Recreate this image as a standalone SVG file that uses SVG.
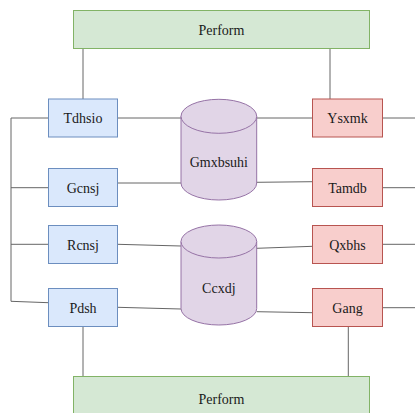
<svg xmlns="http://www.w3.org/2000/svg" width="415" height="413" viewBox="0 0 415 413">
<style>
text{font-family:'Liberation Serif','Times New Roman',serif;font-size:14px;fill:#1a1a1a;text-anchor:middle}
.b rect{fill:#dae8fc;stroke:#6c8ebf}
.r rect{fill:#f8cecc;stroke:#b85450}
.g rect{fill:#d5e8d4;stroke:#82b366}
.c path{fill:#e1d5e7;stroke:#9673a6}
#edges path{fill:none;stroke:#666;stroke-width:1}
</style>
<rect width="415" height="413" fill="#fff"/>
<g id="edges">
<path d="M83 48.7V99"/>
<path d="M330 48.7V99"/>
<path d="M83 326.7V376.7"/>
<path d="M348.3 326.7V376.7"/>
<path d="M48.3 118H11V301.3L48.3 302.7"/>
<path d="M11 187.7H48.3"/>
<path d="M11 244.3H48.3"/>
<path d="M117.7 118H181"/>
<path d="M256.7 118H312.7"/>
<path d="M382.3 118H415"/>
<path d="M117.7 183H181"/>
<path d="M256.7 182.3L312.7 181.7"/>
<path d="M382.3 187.7H415"/>
<path d="M117.7 244.3L181 246"/>
<path d="M256.7 248.3L312.7 246.3"/>
<path d="M382.3 244.3H415"/>
<path d="M117.7 307.3L181 309"/>
<path d="M256.7 311.7L312.7 312.7"/>
<path d="M382.3 307.7H415"/>
</g>
<g id="perform-top" class="g"><rect x="73.5" y="10.5" width="296" height="38"/><text x="221.5" y="34.5">Perform</text></g>
<g id="perform-bottom" class="g"><rect x="73.5" y="376.5" width="296" height="38"/><text x="221.5" y="404">Perform</text></g>
<g id="tdhsio" class="b"><rect x="48.5" y="99" width="69" height="38"/><text x="83" y="123">Tdhsio</text></g>
<g id="gcnsj" class="b"><rect x="48.5" y="168.5" width="69" height="38"/><text x="83" y="192.5">Gcnsj</text></g>
<g id="rcnsj" class="b"><rect x="48.5" y="225.5" width="69" height="38"/><text x="83" y="249.5">Rcnsj</text></g>
<g id="pdsh" class="b"><rect x="48.5" y="288.5" width="69" height="38"/><text x="83" y="312.5">Pdsh</text></g>
<g id="ysxmk" class="r"><rect x="312.5" y="99" width="70" height="38"/><text x="347.5" y="123">Ysxmk</text></g>
<g id="tamdb" class="r"><rect x="312.5" y="168.5" width="70" height="38"/><text x="347.5" y="192.5">Tamdb</text></g>
<g id="qxbhs" class="r"><rect x="312.5" y="225.5" width="70" height="38"/><text x="347.5" y="249.5">Qxbhs</text></g>
<g id="gang" class="r"><rect x="312.5" y="288.5" width="70" height="38"/><text x="347.5" y="312.5">Gang</text></g>
<g id="gmxbsuhi" class="c">
<path d="M181 116.3A37.85 17 0 0 1 256.7 116.3V183A37.85 17 0 0 1 181 183Z"/>
<path d="M181 116.3A37.85 17 0 0 0 256.7 116.3"/>
<text x="218.85" y="167">Gmxbsuhi</text>
</g>
<g id="ccxdj" class="c">
<path d="M181 241.5A37.85 16.5 0 0 1 256.7 241.5V308.5A37.85 16.5 0 0 1 181 308.5Z"/>
<path d="M181 241.5A37.85 16.5 0 0 0 256.7 241.5"/>
<text x="218.85" y="293">Ccxdj</text>
</g>
</svg>
